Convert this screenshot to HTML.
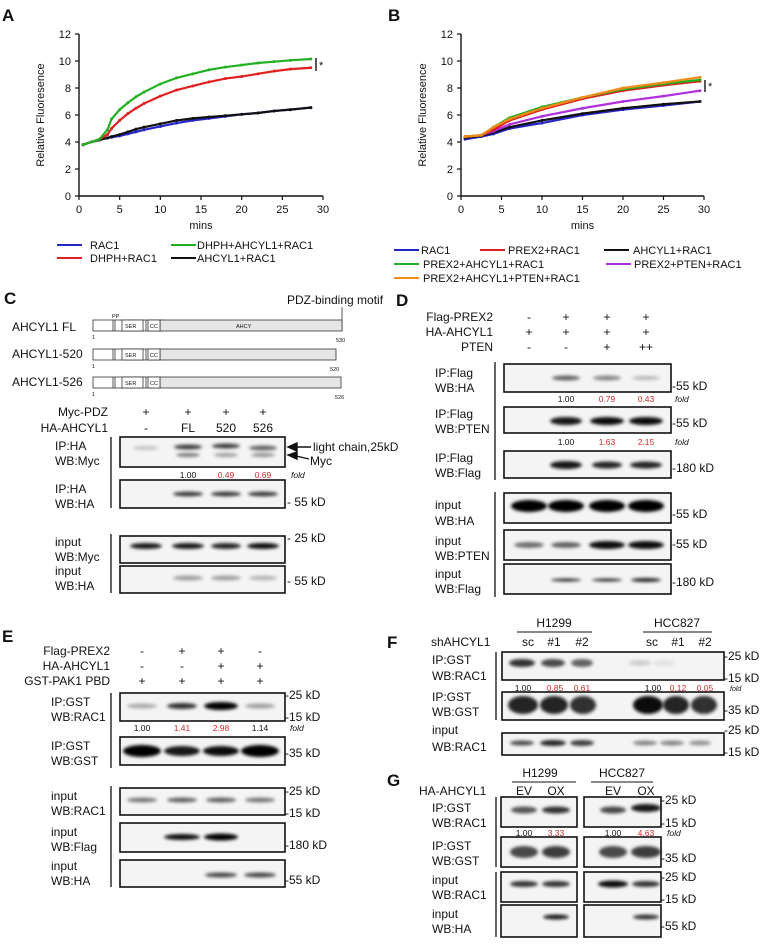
<!DOCTYPE html>
<html><head><meta charset="utf-8"><style>
html,body{margin:0;padding:0;background:#fff;}
svg{display:block;font-family:"Liberation Sans",Arial,sans-serif;}
text{fill:#111;}
.lb{font-size:12px;}
.tk{font-size:11px;}
.sm{font-size:8.5px;}
.red{fill:#d42a2a;}
</style></head><body>
<svg id="fig" width="768" height="945" viewBox="0 0 768 945" xmlns="http://www.w3.org/2000/svg">
<defs><filter id="bl" x="-50%" y="-200%" width="200%" height="500%"><feGaussianBlur stdDeviation="1.6"/></filter></defs>
<g id="chartA"></g>
<g id="chartB"></g>

<g font-weight="bold" font-size="17">
<text x="2" y="21">A</text><text x="388" y="21">B</text><text x="4" y="304">C</text><text x="396" y="306">D</text><text x="2" y="642">E</text><text x="387" y="648">F</text><text x="387" y="786">G</text>
</g>

<g stroke="#333" stroke-width="0.8">
<text x="287" y="304" class="lb" stroke="none">PDZ-binding motif</text>
<line x1="342" y1="307" x2="342" y2="331"/>
<text x="12" y="331" class="lb" stroke="none">AHCYL1 FL</text>
<text x="12" y="358" class="lb" stroke="none">AHCYL1-520</text>
<text x="12" y="386" class="lb" stroke="none">AHCYL1-526</text>
<g>
<rect x="93" y="320" width="70" height="11" fill="#fff"/><rect x="160" y="320" width="182" height="11" fill="#e6e6e6"/>
<line x1="113" y1="320" x2="113" y2="331"/><line x1="115" y1="320" x2="115" y2="331"/><line x1="146" y1="320" x2="146" y2="331"/>
<rect x="122" y="320" width="21" height="11" fill="#fff"/><rect x="148" y="320" width="12" height="11" fill="#fff"/>
</g>
<g>
<rect x="93" y="349" width="67" height="11" fill="#fff"/><rect x="160" y="349" width="176" height="11" fill="#e6e6e6"/>
<line x1="113" y1="349" x2="113" y2="360"/><line x1="115" y1="349" x2="115" y2="360"/><rect x="122" y="349" width="21" height="11" fill="#fff"/><line x1="146" y1="349" x2="146" y2="360"/><rect x="148" y="349" width="12" height="11" fill="#fff"/>
</g>
<g>
<rect x="93" y="377" width="67" height="11" fill="#fff"/><rect x="160" y="377" width="181" height="11" fill="#e6e6e6"/>
<line x1="113" y1="377" x2="113" y2="388"/><line x1="115" y1="377" x2="115" y2="388"/><rect x="122" y="377" width="21" height="11" fill="#fff"/><line x1="146" y1="377" x2="146" y2="388"/><rect x="148" y="377" width="12" height="11" fill="#fff"/>
</g>
<g stroke="none" font-size="5.5">
<text x="112" y="318">PP</text>
<text x="125" y="328">SER</text><text x="150" y="328">CC</text><text x="236" y="328">AHCY</text>
<text x="125" y="357">SER</text><text x="150" y="357">CC</text>
<text x="125" y="385">SER</text><text x="150" y="385">CC</text>
<text x="92" y="339">1</text><text x="336" y="342">530</text>
<text x="92" y="368">1</text><text x="330" y="371">520</text>
<text x="92" y="396">1</text><text x="335" y="399">526</text>
</g>
</g>

<g class="lb">
<text x="108" y="416" text-anchor="end">Myc-PDZ</text><text x="108" y="432" text-anchor="end">HA-AHCYL1</text>
<text x="146" y="416" text-anchor="middle">+</text><text x="188" y="416" text-anchor="middle">+</text><text x="226" y="416" text-anchor="middle">+</text><text x="263" y="416" text-anchor="middle">+</text>
<text x="146" y="432" text-anchor="middle">-</text><text x="188" y="432" text-anchor="middle">FL</text><text x="226" y="432" text-anchor="middle">520</text><text x="263" y="432" text-anchor="middle">526</text>
<text x="55" y="450">IP:HA</text><text x="55" y="465">WB:Myc</text>
<text x="55" y="493">IP:HA</text><text x="55" y="508">WB:HA</text>
<text x="55" y="546">input</text><text x="55" y="561">WB:Myc</text>
<text x="55" y="575">input</text><text x="55" y="590">WB:HA</text>
<text x="313" y="451">light chain,25kD</text><text x="310" y="465">Myc</text>
<text x="287" y="506">- 55 kD</text><text x="287" y="542">- 25 kD</text><text x="287" y="585">- 55 kD</text>
<g class="sm"><text x="188" y="478" text-anchor="middle">1.00</text><text x="226" y="478" text-anchor="middle" class="red">0.49</text><text x="263" y="478" text-anchor="middle" class="red">0.69</text><text x="291" y="478" font-style="italic">fold</text></g>
</g>
<g stroke="#111" stroke-width="1.4"><line x1="292" y1="447" x2="311" y2="447"/><line x1="292" y1="455" x2="309" y2="459"/><path d="M288 447 l9 -4 v8 z M288 455 l9 -3 v7 z" fill="#111"/></g>

<g class="lb">
<text x="493" y="321" text-anchor="end">Flag-PREX2</text><text x="493" y="336" text-anchor="end">HA-AHCYL1</text><text x="493" y="351" text-anchor="end">PTEN</text>
<text x="529" y="321" text-anchor="middle">-</text><text x="566" y="321" text-anchor="middle">+</text><text x="607" y="321" text-anchor="middle">+</text><text x="646" y="321" text-anchor="middle">+</text>
<text x="529" y="336" text-anchor="middle">+</text><text x="566" y="336" text-anchor="middle">+</text><text x="607" y="336" text-anchor="middle">+</text><text x="646" y="336" text-anchor="middle">+</text>
<text x="529" y="351" text-anchor="middle">-</text><text x="566" y="351" text-anchor="middle">-</text><text x="607" y="351" text-anchor="middle">+</text><text x="646" y="351" text-anchor="middle">++</text>
<text x="435" y="377">IP:Flag</text><text x="435" y="392">WB:HA</text>
<text x="435" y="418">IP:Flag</text><text x="435" y="433">WB:PTEN</text>
<text x="435" y="462">IP:Flag</text><text x="435" y="477">WB:Flag</text>
<text x="435" y="509">input</text><text x="435" y="525">WB:HA</text>
<text x="435" y="545">input</text><text x="435" y="560">WB:PTEN</text>
<text x="435" y="578">input</text><text x="435" y="593">WB:Flag</text>
<text x="672" y="390">-55 kD</text><text x="672" y="427">-55 kD</text><text x="672" y="472">-180 kD</text>
<text x="672" y="518">-55 kD</text><text x="672" y="548">-55 kD</text><text x="672" y="586">-180 kD</text>
<g class="sm"><text x="566" y="402" text-anchor="middle">1.00</text><text x="607" y="402" text-anchor="middle" class="red">0.79</text><text x="646" y="402" text-anchor="middle" class="red">0.43</text><text x="675" y="402" font-style="italic">fold</text>
<text x="566" y="445" text-anchor="middle">1.00</text><text x="607" y="445" text-anchor="middle" class="red">1.63</text><text x="646" y="445" text-anchor="middle" class="red">2.15</text><text x="675" y="445" font-style="italic">fold</text></g>
</g>

<g class="lb">
<text x="110" y="655" text-anchor="end">Flag-PREX2</text><text x="110" y="670" text-anchor="end">HA-AHCYL1</text><text x="110" y="685" text-anchor="end">GST-PAK1 PBD</text>
<text x="142" y="655" text-anchor="middle">-</text><text x="182" y="655" text-anchor="middle">+</text><text x="221" y="655" text-anchor="middle">+</text><text x="260" y="655" text-anchor="middle">-</text>
<text x="142" y="670" text-anchor="middle">-</text><text x="182" y="670" text-anchor="middle">-</text><text x="221" y="670" text-anchor="middle">+</text><text x="260" y="670" text-anchor="middle">+</text>
<text x="142" y="685" text-anchor="middle">+</text><text x="182" y="685" text-anchor="middle">+</text><text x="221" y="685" text-anchor="middle">+</text><text x="260" y="685" text-anchor="middle">+</text>
<text x="51" y="706">IP:GST</text><text x="51" y="721">WB:RAC1</text>
<text x="51" y="750">IP:GST</text><text x="51" y="765">WB:GST</text>
<text x="51" y="800">input</text><text x="51" y="815">WB:RAC1</text>
<text x="51" y="836">input</text><text x="51" y="851">WB:Flag</text>
<text x="51" y="870">input</text><text x="51" y="885">WB:HA</text>
<text x="285" y="699">-25 kD</text><text x="285" y="721">-15 kD</text><text x="285" y="757">-35 kD</text>
<text x="285" y="795">-25 kD</text><text x="285" y="817">-15 kD</text><text x="285" y="849">-180 kD</text><text x="285" y="884">-55 kD</text>
<g class="sm"><text x="142" y="731" text-anchor="middle">1.00</text><text x="182" y="731" text-anchor="middle" class="red">1.41</text><text x="221" y="731" text-anchor="middle" class="red">2.98</text><text x="260" y="731" text-anchor="middle">1.14</text><text x="290" y="731" font-style="italic">fold</text></g>
</g>

<g class="lb">
<text x="554" y="627" text-anchor="middle">H1299</text><text x="677" y="627" text-anchor="middle">HCC827</text>
<line x1="517" y1="632" x2="592" y2="632" stroke="#111"/><line x1="643" y1="632" x2="712" y2="632" stroke="#111"/>
<text x="431" y="646">shAHCYL1</text>
<text x="528" y="646" text-anchor="middle">sc</text><text x="554" y="646" text-anchor="middle">#1</text><text x="582" y="646" text-anchor="middle">#2</text>
<text x="652" y="646" text-anchor="middle">sc</text><text x="678" y="646" text-anchor="middle">#1</text><text x="705" y="646" text-anchor="middle">#2</text>
<text x="432" y="664">IP:GST</text><text x="432" y="680">WB:RAC1</text>
<text x="432" y="701">IP:GST</text><text x="432" y="716">WB:GST</text>
<text x="432" y="734">input</text><text x="432" y="751">WB:RAC1</text>
<text x="724" y="660">-25 kD</text><text x="724" y="682">-15 kD</text><text x="724" y="714">-35 kD</text><text x="724" y="734">-25 kD</text><text x="724" y="756">-15 kD</text>
<g class="sm"><text x="523" y="691" text-anchor="middle">1.00</text><text x="555" y="691" text-anchor="middle" class="red">0.85</text><text x="582" y="691" text-anchor="middle" class="red">0.61</text><text x="653" y="691" text-anchor="middle">1.00</text><text x="678" y="691" text-anchor="middle" class="red">0.12</text><text x="705" y="691" text-anchor="middle" class="red">0.05</text><text x="730" y="691" font-style="italic" font-size="7">fold</text></g>
</g>

<g class="lb">
<text x="540" y="777" text-anchor="middle">H1299</text><text x="622" y="777" text-anchor="middle">HCC827</text>
<line x1="512" y1="782" x2="576" y2="782" stroke="#111"/><line x1="591" y1="782" x2="653" y2="782" stroke="#111"/>
<text x="419" y="795">HA-AHCYL1</text>
<text x="524" y="795" text-anchor="middle">EV</text><text x="556" y="795" text-anchor="middle">OX</text><text x="613" y="795" text-anchor="middle">EV</text><text x="646" y="795" text-anchor="middle">OX</text>
<text x="432" y="812">IP:GST</text><text x="432" y="827">WB:RAC1</text>
<text x="432" y="850">IP:GST</text><text x="432" y="865">WB:GST</text>
<text x="432" y="884">input</text><text x="432" y="899">WB:RAC1</text>
<text x="432" y="918">input</text><text x="432" y="933">WB:HA</text>
<text x="661" y="804">-25 kD</text><text x="661" y="827">-15 kD</text><text x="661" y="862">-35 kD</text>
<text x="661" y="881">-25 kD</text><text x="661" y="903">-15 kD</text><text x="661" y="930">-55 kD</text>
<g class="sm"><text x="524" y="836" text-anchor="middle">1.00</text><text x="556" y="836" text-anchor="middle" class="red">3.33</text><text x="613" y="836" text-anchor="middle">1.00</text><text x="646" y="836" text-anchor="middle" class="red">4.63</text><text x="667" y="836" font-style="italic">fold</text></g>
</g>

<g stroke="#111" stroke-width="1.3">
<line x1="111" y1="437" x2="111" y2="508"/><line x1="111" y1="534" x2="111" y2="593"/>
<line x1="495" y1="362" x2="495" y2="480"/><line x1="495" y1="492" x2="495" y2="597"/>
<line x1="111" y1="693" x2="111" y2="768"/><line x1="111" y1="786" x2="111" y2="887"/>
<line x1="496" y1="652" x2="496" y2="720"/>
<line x1="496" y1="797" x2="496" y2="867"/><line x1="496" y1="872" x2="496" y2="937"/>
</g>
<g stroke="#111" stroke-width="1.4">
<line x1="316" y1="58" x2="316" y2="71"/><line x1="705" y1="80" x2="705" y2="92"/>
</g>
<text x="319" y="69" font-size="11">*</text>
<text x="708" y="90" font-size="11">*</text>
<g id="blots"></g>

<script>
// ---------- Chart A data ----------
const timesA = [0.5,1.5,2.5,3.5,4,5,6,7,8,10,12,14,16,18,20,22,24,26,28.5];
const rac1A = [3.8,4.0,4.15,4.3,4.35,4.45,4.6,4.75,4.9,5.15,5.4,5.6,5.75,5.9,6.05,6.15,6.3,6.4,6.55];
const ahcylA = [3.8,4.0,4.15,4.3,4.4,4.55,4.75,4.95,5.1,5.35,5.6,5.75,5.85,5.95,6.05,6.15,6.3,6.4,6.55];
const dhphA = [3.8,4.0,4.2,4.55,5.0,5.6,6.1,6.5,6.85,7.4,7.85,8.15,8.45,8.7,8.85,9.05,9.25,9.4,9.5];
const dhphAhcylA = [3.8,4.0,4.2,4.9,5.7,6.4,6.9,7.35,7.7,8.3,8.75,9.05,9.35,9.55,9.7,9.85,9.95,10.05,10.15];
// ---------- Chart B data ----------
const timesB = [0.5,2.5,4,6,10,15,20,25,29.5];
const rac1B = [4.2,4.4,4.6,5.0,5.4,6.0,6.4,6.7,7.0];
const ahcylB = [4.3,4.45,4.7,5.1,5.6,6.1,6.5,6.8,7.0];
const ptenB = [4.4,4.5,4.8,5.3,5.9,6.5,7.0,7.4,7.8];
const prexB = [4.4,4.5,4.9,5.6,6.4,7.2,7.8,8.2,8.5];
const prexAhcylB = [4.4,4.5,5.1,5.8,6.6,7.3,7.9,8.3,8.6];
const prexAhcylPtenB = [4.4,4.5,5.1,5.7,6.5,7.3,8.0,8.4,8.8];
const xTicks = [0,5,10,15,20,25,30];
const yTicks = [0,2,4,6,8,10,12];

const NS = "http://www.w3.org/2000/svg";
function mk(tag, attrs, parent){const e=document.createElementNS(NS,tag);for(const k in attrs)e.setAttribute(k,attrs[k]);parent.appendChild(e);return e;}

function drawChart(g, x0, x1, times, seriesList, legend){
  const y0=196, y1=34;
  const sx=v=>x0+(v-0)/(30-0)*(x1-x0);
  const sy=v=>y0-(v-0)/(12-0)*(y0-y1);
  mk('line',{x1:x0,y1:y1,x2:x0,y2:y0,stroke:'#111','stroke-width':1.4},g);
  mk('line',{x1:x0,y1:y0,x2:x1,y2:y0,stroke:'#111','stroke-width':1.4},g);
  yTicks.forEach(v=>{
    mk('line',{x1:x0-4,y1:sy(v),x2:x0,y2:sy(v),stroke:'#111','stroke-width':1.2},g);
    const t=mk('text',{x:x0-8,y:sy(v)+4,'text-anchor':'end',class:'tk'},g);t.textContent=v;
    
    
  });
  xTicks.forEach(v=>{
    mk('line',{x1:sx(v),y1:y0,x2:sx(v),y2:y0+4,stroke:'#111','stroke-width':1.2},g);
    const t=mk('text',{x:sx(v),y:y0+17,'text-anchor':'middle',class:'tk'},g);t.textContent=v;
    
    
  });
  const yl=mk('text',{x:0,y:0,'text-anchor':'middle',class:'tk',transform:`translate(${x0-35},115) rotate(-90)`},g);yl.textContent='Relative Fluoresence';
  
  
  const xl=mk('text',{x:(x0+x1)/2,y:229,'text-anchor':'middle',class:'tk'},g);xl.textContent='mins';
  
  
  seriesList.forEach(s=>{
    const pts=times.map((t,i)=>sx(t)+','+sy(s.vals[i])).join(' ');
    const pl=mk('polyline',{points:pts,fill:'none',stroke:s.color,'stroke-width':2.2},g);
    
    
    times.forEach((t,i)=>{
      const c=mk('circle',{cx:sx(t),cy:sy(s.vals[i]),r:1.5,fill:s.color},g);
      
      
    });
  });
  legend.forEach(l=>{
    const s=seriesList[l.i];
    const ln=mk('line',{x1:l.x,y1:l.y,x2:l.x+25,y2:l.y,stroke:s.color,'stroke-width':2},g);
    
    
    const t=mk('text',{x:l.tx,y:l.y+4,class:'tk'},g);t.textContent=s.name;
    
    
  });
}
drawChart(document.getElementById('chartA'),79,323,timesA,[
  {name:'RAC1',color:'#2626c8',vals:rac1A},
  {name:'AHCYL1+RAC1',color:'#111',vals:ahcylA},
  {name:'DHPH+RAC1',color:'#e02020',vals:dhphA},
  {name:'DHPH+AHCYL1+RAC1',color:'#22b022',vals:dhphAhcylA}
],[{i:0,x:57,y:245,tx:90},{i:3,x:171,y:245,tx:197},{i:2,x:57,y:258,tx:90},{i:1,x:171,y:258,tx:197}]);
drawChart(document.getElementById('chartB'),461,704,timesB,[
  {name:'RAC1',color:'#2626c8',vals:rac1B},
  {name:'AHCYL1+RAC1',color:'#111',vals:ahcylB},
  {name:'PREX2+PTEN+RAC1',color:'#b030e0',vals:ptenB},
  {name:'PREX2+RAC1',color:'#e02020',vals:prexB},
  {name:'PREX2+AHCYL1+RAC1',color:'#22b022',vals:prexAhcylB},
  {name:'PREX2+AHCYL1+PTEN+RAC1',color:'#f08a1a',vals:prexAhcylPtenB}
],[{i:0,x:394,y:250,tx:421},{i:3,x:480,y:250,tx:508},{i:1,x:604,y:250,tx:633},{i:4,x:394,y:264,tx:423},{i:2,x:606,y:264,tx:634},{i:5,x:394,y:278,tx:423}]);

// ---------- Western blots: [x,y,w,h, bands:[cx,cy,rx,ry,opacity]] ----------
const blotBoxes = [
 [120,437,165,30,[[146,448,13,2,.2],[188,447,14,2.5,.75],[188,455,12,2,.5],[226,446,14,2.5,.75],[226,455,12,2,.35],[263,448,14,2.5,.6],[263,455,12,2,.4]]],
 [120,480,165,28,[[188,494,15,2.5,.75],[226,494,15,2.5,.75],[263,494,15,2.5,.75]]],
 [120,536,165,27,[[146,546,16,3,.9],[188,546,16,3,.9],[226,546,15,3,.85],[263,546,16,3,.95]]],
 [120,566,165,27,[[188,578,15,2.5,.35],[226,578,15,2.5,.35],[263,578,14,2.5,.25]]],
 [504,364,167,28,[[566,378,14,2.5,.6],[607,378,14,2.5,.45],[646,378,14,2,.25]]],
 [504,407,167,26,[[566,421,16,4,.9],[607,421,17,4,.95],[646,421,17,4,.95]]],
 [504,451,167,27,[[566,465,16,4,.9],[607,465,15,3.5,.85],[646,465,16,3.5,.85]]],
 [504,493,167,30,[[529,506,18,6,1],[566,506,18,6,1],[607,506,18,6,1],[646,506,18,6,1]]],
 [504,530,167,30,[[529,545,15,3,.55],[566,545,15,3,.6],[607,545,18,4,.95],[646,545,18,4,.95]]],
 [504,564,167,30,[[566,580,15,1.5,.85],[607,580,15,1.5,.85],[646,580,15,2,.85]]],
 [120,693,165,28,[[142,706,15,2.5,.3],[182,706,15,3,.8],[221,706,17,4,1],[260,706,15,2.5,.35]]],
 [120,737,165,28,[[142,751,19,6,1],[182,751,18,5,.9],[221,751,18,5,.95],[260,751,19,6,1]]],
 [120,788,165,27,[[142,800,15,2.5,.5],[182,800,15,2.5,.6],[221,800,15,2.5,.6],[260,800,15,2.5,.5]]],
 [120,823,165,29,[[182,837,18,3,.95],[221,837,17,3.5,1]]],
 [120,860,165,27,[[221,875,16,2.5,.7],[260,875,16,2.5,.7]]],
 [502,652,222,28,[[522,663,13,4,.8],[553,663,12,4,.7],[582,663,11,4,.6],[640,663,11,3,.15],[664,663,11,3,.08]]],
 [502,692,222,28,[[523,705,15,9,.85],[554,705,14,9,.85],[583,705,13,9,.8],[648,705,15,9,.95],[676,705,13,9,.85],[704,705,13,9,.8]]],
 [502,733,222,22,[[522,743,12,2.5,.7],[553,743,13,3,.85],[582,743,12,3,.75],[645,743,12,2.5,.45],[672,743,12,2.5,.45],[700,743,11,2.5,.4]]],
 [501,797,76,30,[[524,810,13,3.5,.65],[556,810,14,3.5,.8]]],
 [584,797,77,30,[[613,810,13,3.5,.7],[646,808,15,4,.9]]],
 [501,837,76,30,[[524,852,14,6,.7],[556,852,14,6,.75]]],
 [584,837,77,30,[[613,852,14,6,.7],[646,852,15,6,.75]]],
 [501,872,76,30,[[524,884,14,3,.8],[556,884,14,3,.8]]],
 [584,872,77,30,[[613,884,15,3.5,.95],[646,884,14,3,.8]]],
 [501,905,76,32,[[556,917,13,2.5,.9]]],
 [584,905,77,32,[[646,917,13,2.5,.8]]]
];
const bg=document.getElementById('blots');
blotBoxes.forEach(b=>{
  const g=mk('g',{},bg);
  
  
  mk('rect',{x:b[0],y:b[1],width:b[2],height:b[3],fill:'#f4f4f4'},g);
  b[4].forEach(d=>{
    const e=mk('ellipse',{cx:d[0],cy:d[1],rx:d[2],ry:d[3],fill:'#000','fill-opacity':d[4],filter:'url(#bl)'},g);
    
    
  });
  mk('rect',{x:b[0],y:b[1],width:b[2],height:b[3],fill:'none',stroke:'#111','stroke-width':1.6},g);
});
</script>
</svg>
</body></html>
